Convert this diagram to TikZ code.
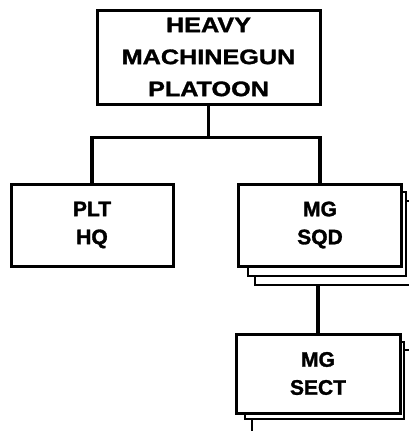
\documentclass[tikz,border=0pt]{standalone}
\usepackage{fontspec}
\newfontfamily\unitfont{Liberation Sans}[BoldFeatures={FakeBold=1.5}]
\newfontfamily\wideunitfont{Liberation Sans}[FakeStretch=1.2,BoldFeatures={FakeBold=1.5}]
\usepackage{tikz}
\usetikzlibrary{positioning}

\begin{document}
\begin{tikzpicture}[
  x=1pt, y=-1pt,
  unit/.style={draw, line width=3pt, fill=white, inner sep=0pt,
               align=center, font=\unitfont\bfseries\fontsize{21}{28}\selectfont},
  sheet/.style={draw, line width=2.6pt, fill=white, inner sep=0pt},
  link/.style={line width=3.2pt}
]
  \useasboundingbox (0,0) rectangle (408,431);

  % Headquarters
  \node[unit, minimum width=223pt, minimum height=94pt,
        font=\wideunitfont\bfseries\fontsize{21}{32}\selectfont]
        (plt) at (208.5,57) {HEAVY\\MACHINEGUN\\PLATOON};
  \node[unit, minimum width=162pt, minimum height=82pt] (hq) at (92,225) {PLT\\HQ};

  % Squads (stacked)
  \node[sheet, minimum width=165pt, minimum height=84pt] (sqdc) at (337.5,243) {};
  \node[sheet, minimum width=158pt, minimum height=84pt] (sqdb) at (327,234) {};
  \node[unit, minimum width=163pt, minimum height=82pt] (sqd) at (320,225) {MG\\SQD};

  % Sections (stacked)
  \node[sheet, minimum width=168pt, minimum height=90pt] (sectc) at (336,395) {};
  \node[sheet, minimum width=159pt, minimum height=77pt] (sectb) at (324.5,380.5) {};
  \node[unit, minimum width=164pt, minimum height=79pt] (sect) at (318,373.5) {MG\\SECT};

  % Connectors
  \draw[link] (plt.south) -- ++(0,32) -| (hq.north);
  \draw[link] (plt.south) ++(0,32) -| (sqd.north);
  \draw[link] (sect.north) -- (sect.north |- sqdc.south);
\end{tikzpicture}
\end{document}
